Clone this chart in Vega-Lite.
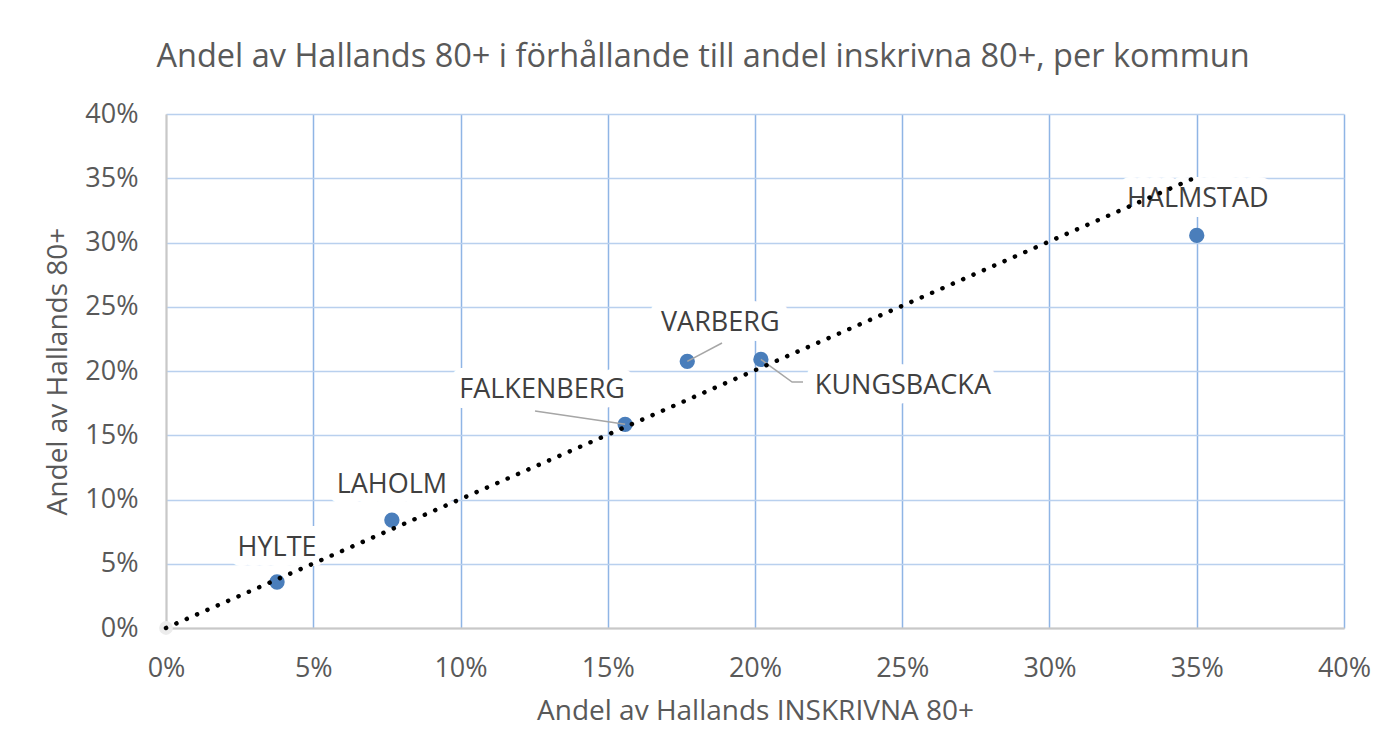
{
  "$schema": "https://vega.github.io/schema/vega-lite/v6.json",
  "width": 1178,
  "height": 514,
  "autosize": {"type": "none"},
  "padding": {"left": 166, "top": 114, "right": 46, "bottom": 128},
  "background": "white",
  "config": {"view": {"stroke": null}, "font": "Open Sans"},
  "title": {
    "text": "Andel av Hallands 80+ i förhållande till andel inskrivna 80+, per kommun",
    "font": "Open Sans",
    "fontSize": 32.5,
    "fontWeight": "normal",
    "color": "#595959",
    "anchor": "middle",
    "dx": -52,
    "offset": 27
  },
  "datasets": {
    "points": [
      {"kommun": "HYLTE", "x": 0.0377, "y": 0.0358},
      {"kommun": "LAHOLM", "x": 0.0767, "y": 0.0840},
      {"kommun": "FALKENBERG", "x": 0.1559, "y": 0.1585},
      {"kommun": "VARBERG", "x": 0.1770, "y": 0.2075},
      {"kommun": "KUNGSBACKA", "x": 0.2020, "y": 0.2090},
      {"kommun": "HALMSTAD", "x": 0.3500, "y": 0.3055}
    ],
    "origin": [{"x": 0, "y": 0}],
    "trend": [{"x": 0, "y": 0}, {"x": 0.349, "y": 0.35}],
    "leaders": [
      {"kommun": "VARBERG", "ord": 1, "x": 0.1770, "y": 0.2075},
      {"kommun": "VARBERG", "ord": 2, "x": 0.1888, "y": 0.2218},
      {"kommun": "KUNGSBACKA", "ord": 1, "x": 0.2020, "y": 0.2090},
      {"kommun": "KUNGSBACKA", "ord": 2, "x": 0.2126, "y": 0.1914},
      {"kommun": "KUNGSBACKA", "ord": 3, "x": 0.2163, "y": 0.1914},
      {"kommun": "FALKENBERG", "ord": 1, "x": 0.1559, "y": 0.1585},
      {"kommun": "FALKENBERG", "ord": 2, "x": 0.1253, "y": 0.1689}
    ]
  },
  "encoding": {
    "x": {
      "field": "x",
      "type": "quantitative",
      "scale": {"domain": [0, 0.4], "nice": false},
      "axis": {
        "values": [0, 0.05, 0.1, 0.15, 0.2, 0.25, 0.3, 0.35, 0.4],
        "format": ".0%",
        "title": "Andel av Hallands INSKRIVNA 80+",
        "grid": true,
        "gridColor": {"condition": {"test": "datum.value === 0", "value": "#d0d0d0"}, "value": "#8fb5e5"},
        "gridWidth": 1.5,
        "domainColor": "#c8c8c8",
        "domainWidth": 2,
        "ticks": false,
        "labelPadding": 27,
        "labelFontSize": 27,
        "labelColor": "#595959",
        "labelFont": "Open Sans",
        "labelFlush": false,
        "titleFont": "Open Sans",
        "titleFontSize": 28,
        "titleFontWeight": "normal",
        "titleColor": "#595959",
        "titlePadding": 16
      }
    },
    "y": {
      "field": "y",
      "type": "quantitative",
      "scale": {"domain": [0, 0.4], "nice": false},
      "axis": {
        "values": [0, 0.05, 0.1, 0.15, 0.2, 0.25, 0.3, 0.35, 0.4],
        "format": ".0%",
        "title": "Andel av Hallands 80+",
        "grid": true,
        "gridColor": {"condition": {"test": "datum.value === 0", "value": "#d0d0d0"}, "value": "#b9d0ee"},
        "gridWidth": 1.5,
        "domainColor": "#c8c8c8",
        "domainWidth": 2,
        "ticks": false,
        "labelPadding": 28,
        "labelFontSize": 27,
        "labelColor": "#595959",
        "labelFont": "Open Sans",
        "labelFlush": false,
        "titleFont": "Open Sans",
        "titleFontSize": 28,
        "titleFontWeight": "normal",
        "titleColor": "#595959",
        "titlePadding": 12
      }
    }
  },
  "layer": [
    {
      "data": {"name": "origin"},
      "mark": {"type": "circle", "size": 190, "color": "#ececec", "opacity": 1}
    },
    {
      "data": {"name": "points"},
      "mark": {"type": "circle", "size": 235, "color": "#4a7ebb", "opacity": 1}
    },
    {
      "data": {"name": "leaders"},
      "mark": {"type": "line", "color": "#a6a6a6", "strokeWidth": 1.5},
      "encoding": {
        "detail": {"field": "kommun", "type": "nominal"},
        "order": {"field": "ord", "type": "quantitative"}
      }
    },
    {
      "data": {"name": "points"},
      "transform": [{"filter": "datum.kommun === 'HYLTE'"}],
      "layer": [
        {"mark": {"type": "text", "dx": 0, "dy": -26, "fontSize": 27, "fill": "white", "stroke": "white", "strokeWidth": 20, "strokeJoin": "round", "baseline": "alphabetic"}, "encoding": {"text": {"field": "kommun"}}},
        {"mark": {"type": "text", "dx": 0, "dy": -26, "fontSize": 27, "fill": "#404040", "baseline": "alphabetic"}, "encoding": {"text": {"field": "kommun"}}}
      ]
    },
    {
      "data": {"name": "points"},
      "transform": [{"filter": "datum.kommun === 'LAHOLM'"}],
      "layer": [
        {"mark": {"type": "text", "dx": 0, "dy": -27, "fontSize": 27, "fill": "white", "stroke": "white", "strokeWidth": 20, "strokeJoin": "round", "baseline": "alphabetic"}, "encoding": {"text": {"field": "kommun"}}},
        {"mark": {"type": "text", "dx": 0, "dy": -27, "fontSize": 27, "fill": "#404040", "baseline": "alphabetic"}, "encoding": {"text": {"field": "kommun"}}}
      ]
    },
    {
      "data": {"name": "points"},
      "transform": [{"filter": "datum.kommun === 'FALKENBERG'"}],
      "layer": [
        {"mark": {"type": "text", "dx": -83, "dy": -26, "fontSize": 27, "fill": "white", "stroke": "white", "strokeWidth": 20, "strokeJoin": "round", "baseline": "alphabetic"}, "encoding": {"text": {"field": "kommun"}}},
        {"mark": {"type": "text", "dx": -83, "dy": -26, "fontSize": 27, "fill": "#404040", "baseline": "alphabetic"}, "encoding": {"text": {"field": "kommun"}}}
      ]
    },
    {
      "data": {"name": "points"},
      "transform": [{"filter": "datum.kommun === 'VARBERG'"}],
      "layer": [
        {"mark": {"type": "text", "dx": 33, "dy": -30, "fontSize": 27, "fill": "white", "stroke": "white", "strokeWidth": 20, "strokeJoin": "round", "baseline": "alphabetic"}, "encoding": {"text": {"field": "kommun"}}},
        {"mark": {"type": "text", "dx": 33, "dy": -30, "fontSize": 27, "fill": "#404040", "baseline": "alphabetic"}, "encoding": {"text": {"field": "kommun"}}}
      ]
    },
    {
      "data": {"name": "points"},
      "transform": [{"filter": "datum.kommun === 'KUNGSBACKA'"}],
      "layer": [
        {"mark": {"type": "text", "dx": 142, "dy": 35, "fontSize": 27, "fill": "white", "stroke": "white", "strokeWidth": 20, "strokeJoin": "round", "baseline": "alphabetic"}, "encoding": {"text": {"field": "kommun"}}},
        {"mark": {"type": "text", "dx": 142, "dy": 35, "fontSize": 27, "fill": "#404040", "baseline": "alphabetic"}, "encoding": {"text": {"field": "kommun"}}}
      ]
    },
    {
      "data": {"name": "points"},
      "transform": [{"filter": "datum.kommun === 'HALMSTAD'"}],
      "layer": [
        {"mark": {"type": "text", "dx": 1, "dy": -28, "fontSize": 27, "fill": "white", "stroke": "white", "strokeWidth": 20, "strokeJoin": "round", "baseline": "alphabetic"}, "encoding": {"text": {"field": "kommun"}}},
        {"mark": {"type": "text", "dx": 1, "dy": -28, "fontSize": 27, "fill": "#404040", "baseline": "alphabetic"}, "encoding": {"text": {"field": "kommun"}}}
      ]
    },
    {
      "data": {"name": "trend"},
      "mark": {"type": "line", "color": "black", "strokeWidth": 4.5, "strokeCap": "round", "strokeDash": [0.1, 11.2]},
      "encoding": {}
    }
  ]
}
